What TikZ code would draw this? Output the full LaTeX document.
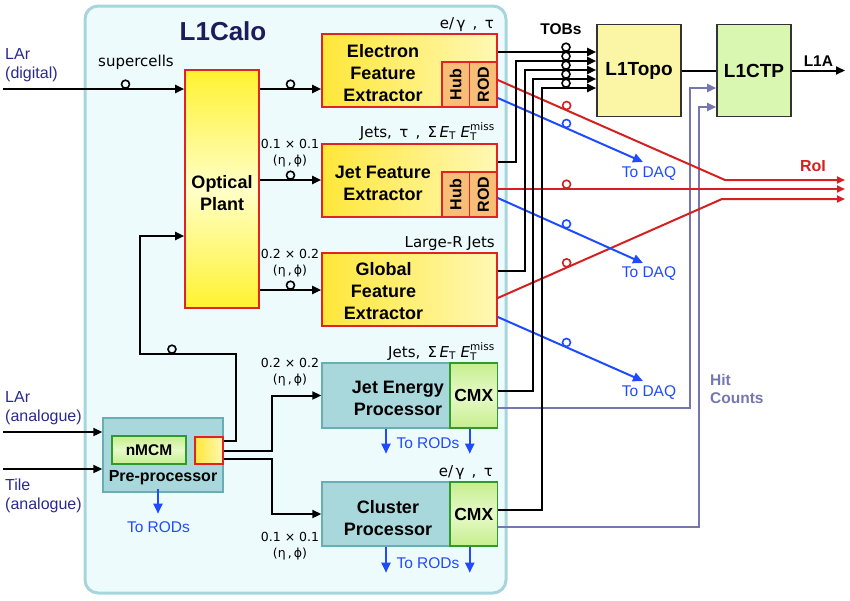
\documentclass[tikz,border=0pt]{standalone}
\usepackage{amsmath}
\usepackage{fontspec}
\setmainfont{Liberation Sans}
\newfontfamily\lblfont{DejaVu Sans}
\usepackage{graphicx}
\usepackage{xcolor}
\usetikzlibrary{arrows.meta, positioning, calc}

\definecolor{calofill}{HTML}{EEFBFD}
\definecolor{caloedge}{HTML}{A6D6DB}
\definecolor{caloname}{HTML}{1C1C5C}
\definecolor{boxred}{HTML}{E02424}
\definecolor{fexdark}{HTML}{FFE73A}
\definecolor{fexlight}{HTML}{FFF8B4}
\definecolor{opyellow}{HTML}{FFF230}
\definecolor{oppale}{HTML}{FFFFC8}
\definecolor{rodfill}{HTML}{F8BE78}
\definecolor{tealfill}{HTML}{A9D8DC}
\definecolor{tealedge}{HTML}{68AEB4}
\definecolor{cmxdark}{HTML}{C6EE8E}
\definecolor{cmxlight}{HTML}{E6FAC8}
\definecolor{cmxedge}{HTML}{2F9A30}
\definecolor{topofill}{HTML}{FBF6A6}
\definecolor{ctpfill}{HTML}{DAF7B2}
\definecolor{roired}{HTML}{D42020}
\definecolor{daqblue}{HTML}{1F4BFF}
\definecolor{hitgray}{HTML}{7676B0}
\definecolor{inblue}{HTML}{2A2A8E}

\newcommand{\lcEt}{$\textit{E}_{\text{T}}$}
\newcommand{\lcEtmiss}{$\textit{E}_{\text{T}}^{\text{miss}}$}

\begin{document}
\begin{tikzpicture}[x=1pt, y=-1pt,
    every node/.style={font=\fontsize{14}{17}\selectfont},
    calobox/.style={rectangle, draw=caloedge, fill=calofill, line width=3pt, rounded corners=13pt},
    fexbox/.style={rectangle, draw=boxred, line width=1.6pt, left color=fexdark, right color=fexlight,
                   minimum width=175pt, minimum height=73pt},
    rodbox/.style={rectangle, draw=boxred, line width=1.6pt, fill=rodfill, inner sep=0pt,
                   minimum width=27.5pt, minimum height=45pt, font=\fontsize{16}{16}\selectfont\bfseries},
    procbox/.style={rectangle, draw=tealedge, fill=tealfill, line width=1.4pt,
                    minimum width=128pt, minimum height=65pt},
    cmxbox/.style={rectangle, draw=cmxedge, line width=1.4pt, top color=cmxdark, bottom color=cmxdark,
                   middle color=cmxlight, minimum width=47.5pt, minimum height=65pt, inner sep=0pt,
                   font=\fontsize{17.5}{20}\selectfont\bfseries},
    l1box/.style={rectangle, draw=black!80, line width=1.6pt, minimum height=92pt, inner sep=0pt,
                  font=\fontsize{19}{22}\selectfont\bfseries},
    boxtxt/.style={align=center, inner sep=0pt, font=\fontsize{18}{22}\selectfont\bfseries},
    wire/.style={draw=black, line width=2pt},
    arrow/.style={wire, -{Triangle[length=9pt, width=8pt]}},
    roi/.style={color=roired, line width=2pt, -{Triangle[length=8pt, width=7pt]}},
    daq/.style={color=daqblue, line width=2pt, -{Triangle[length=10pt, width=9pt]}},
    hit/.style={draw=hitgray, line width=2pt, -{Triangle[length=9pt, width=8pt]}},
    ring/.style={circle, draw, line width=1.6pt, inner sep=0pt, minimum size=8pt, anchor=south},
    lbl/.style={inner sep=0pt, font=\lblfont\fontsize{15}{17}\selectfont},
    cellsize/.style={align=center, inner sep=0pt, font=\lblfont\fontsize{12.5}{16}\selectfont},
    inlbl/.style={anchor=west, align=left, text=inblue, inner sep=0pt, font=\fontsize{16}{19}\selectfont},
    bluelbl/.style={text=daqblue, font=\fontsize{15.5}{18}\selectfont}
]
\useasboundingbox (0,0) rectangle (850,600);

% === L1Calo frame ===
\node[calobox, minimum width=421pt, minimum height=587pt] (calo) at (295.5,299.5) {};
\node[text=caloname, font=\fontsize{26}{28}\selectfont\bfseries] (calotitle) at (223,31.5) {L1Calo};

% === Inputs ===
\node[inlbl] (lardiglbl) at (5,65) {LAr\\(digital)};
\node[inlbl] (laranlbl) at (5,408) {LAr\\(analogue)};
\node[inlbl] (tilelbl) at (5,496) {Tile\\(analogue)};
\coordinate (lardigin) at (3,89);
\coordinate (laranin) at (3,432);
\coordinate (tilein) at (3,469);

% === Optical Plant ===
\node[rectangle, draw=boxred, line width=1.6pt, top color=opyellow, bottom color=opyellow, middle color=oppale,
      minimum width=74pt, minimum height=238pt] (optical) at (222,189) {};
\node[boxtxt] (opticaltxt) at (222,193) {Optical\\Plant};

% === Feature extractors ===
\node[fexbox] (efe) at (409.5,70.5) {};
\node[boxtxt] (efetxt) at (383,73) {Electron\\Feature\\Extractor};
\node[rodbox] (efehub) at (455.75,84.5) {\rotatebox{90}{Hub}};
\node[rodbox] (eferod) at (483.25,84.5) {\rotatebox{90}{ROD}};
\node[lbl, anchor=base east] (efelbl) at (494,28) {e/\,γ\, , \,τ};

\node[fexbox] (jfe) at (409.5,180.5) {};
\node[boxtxt] (jfetxt) at (383,183) {Jet Feature\\Extractor};
\node[rodbox] (jfehub) at (455.75,194.5) {\rotatebox{90}{Hub}};
\node[rodbox] (jferod) at (483.25,194.5) {\rotatebox{90}{ROD}};
\node[lbl, anchor=base east] (jfelbl) at (495,137) {Jets, \,τ\, , \,Σ\,\lcEt\ \lcEtmiss};

\node[fexbox] (gfe) at (409.5,289.5) {};
\node[boxtxt] (gfetxt) at (383.5,291) {Global\\Feature\\Extractor};
\node[lbl, anchor=base east] (gfelbl) at (495,247) {Large-R Jets};

% === Processors ===
\node[procbox] (jep) at (386,395.5) {};
\node[boxtxt] (jeptxt) at (398,398) {Jet Energy\\Processor};
\node[cmxbox] (jepcmx) at (473.75,395.5) {CMX};
\node[lbl, anchor=base east] (jeplbl) at (495,357) {Jets, \,Σ\,\lcEt\ \lcEtmiss};

\node[procbox, minimum height=64pt] (cp) at (386,514) {};
\node[boxtxt] (cptxt) at (388,518) {Cluster\\Processor};
\node[cmxbox, minimum height=64pt] (cpcmx) at (473.75,514) {CMX};
\node[lbl, anchor=base east] (cplbl) at (493,476) {e/\,γ\, , \,τ};

% === Pre-processor ===
\node[procbox, minimum width=120pt, minimum height=74pt] (ppr) at (163,455) {};
\node[cmxbox, minimum width=74pt, minimum height=28pt, font=\fontsize{15.5}{17}\selectfont\bfseries] (nmcm) at (149,450) {nMCM};
\node[rectangle, draw=boxred, line width=1.6pt, left color=fexdark, right color=fexlight,
      minimum width=28pt, minimum height=27pt] (pprout) at (209,450.5) {};
\node[boxtxt, font=\fontsize{16}{18}\selectfont\bfseries] (pprtxt) at (163,478) {Pre-processor};

% === Central trigger ===
\node[l1box, fill=topofill, minimum width=84pt] (l1topo) at (639,70.5) {L1Topo};
\node[l1box, fill=ctpfill, minimum width=74pt] (l1ctp) at (754,70.5) {L1CTP};
\node[font=\fontsize{15.5}{18}\selectfont\bfseries] (tobs) at (561,29) {TOBs};

% === Hit counts ===
\draw[hit] (jepcmx.east |- 0,408) -- (690,408) -- (690,88) -- (l1ctp.west |- 0,88);
\draw[hit] (cpcmx.east |- 0,527) -- (699,527) -- (699,107) -- (l1ctp.west |- 0,107);
\node[anchor=north west, align=left, inner sep=0pt, text=hitgray, font=\fontsize{15.5}{18}\selectfont\bfseries] (hitlbl) at (710,374) {Hit\\Counts};

% === RoI and readout ===
\coordinate (roia) at (845,180);
\coordinate (roib) at (845,189);
\coordinate (roic) at (845,199);
\draw[roi] (eferod.east |- 0,80) -- node[ring, pos=0.303] (roiring1) {} (725,180) -- (roia);
\draw[roi] (jferod.east |- 0,189) -- node[ring, pos=0.198] (roiring2) {} (roib);
\draw[roi] (gfe.east |- 0,298) -- node[ring, pos=0.307] (roiring3) {} (722,199) -- (roic);
\node[text=roired, font=\fontsize{16}{18}\selectfont\bfseries] (roilbl) at (813,166) {RoI};

\coordinate (daqa) at (643,162);
\coordinate (daqb) at (643,263);
\coordinate (daqc) at (643,381);
\draw[daq] (eferod.east |- 0,98) -- node[ring, pos=0.473] (daqring1) {} (daqa);
\draw[daq] (jferod.east |- 0,198) -- node[ring, pos=0.473] (daqring2) {} (daqb);
\draw[daq] (gfe.east |- 0,317) -- node[ring, pos=0.473] (daqring3) {} (daqc);
\node[bluelbl] (daqlbl1) at (649,174) {To DAQ};
\node[bluelbl] (daqlbl2) at (649,274) {To DAQ};
\node[bluelbl] (daqlbl3) at (649,393) {To DAQ};

% === Optical links ===
\draw[arrow] (lardigin) -- node[ring, pos=0.676] (scring) {} (optical.west |- lardigin);
\node[lbl] (sclbl) at (136,62) {supercells};
\draw[arrow] (optical.east |- 0,89) -- node[ring] (efering) {} (efe.west |- 0,89);
\draw[arrow] (optical.east |- 0,180) -- node[ring] (jfering) {} (jfe.west |- 0,180);
\draw[arrow] (optical.east |- 0,290) -- node[ring] (gfering) {} (gfe.west |- 0,290);
\node[cellsize] (jfegran) at (290,153) {0.1 × 0.1\\(η\,,\,ϕ)};
\node[cellsize] (gfegran) at (290,263) {0.2 × 0.2\\(η\,,\,ϕ)};

% === Analogue path ===
\draw[arrow] (laranin) -- (ppr.west |- laranin);
\draw[arrow] (tilein) -- (ppr.west |- tilein);
\draw[arrow] (pprout.east |- 0,441) -- (236,441) -- (236,354) -- node[ring, pos=0.667] (pprring) {} (140,354)
    -- (140,236) -- (optical.west |- 0,236);
\draw[arrow] (pprout.east |- 0,451) -- (272,451) -- (272,395.5) -- (jep.west);
\draw[arrow] (pprout.east |- 0,459) -- (272,459) -- (272,514) -- (cp.west);
\node[cellsize] (jepgran) at (290,372) {0.2 × 0.2\\(η\,,\,ϕ)};
\node[cellsize] (cpgran) at (290,546) {0.1 × 0.1\\(η\,,\,ϕ)};

% === To RODs ===
\draw[daq] (jep.south) -- ++(0,25);
\draw[daq] ([xshift=-4pt]jepcmx.south) -- ++(0,25);
\node[bluelbl] (jeprods) at (428,443) {To RODs};
\draw[daq] (cp.south) -- ++(0,26);
\draw[daq] ([xshift=-4pt]cpcmx.south) -- ++(0,26);
\node[bluelbl] (cprods) at (428,563) {To RODs};
\draw[daq] ([xshift=-5pt, yshift=4pt]ppr.south) -- ++(0,25);
\node[bluelbl] (pprrods) at (158.5,527) {To RODs};

% === TOBs to L1Topo ===
\draw[arrow] (efe.east |- 0,52) -- (l1topo.west |- 0,52);
\draw[arrow] (jfe.east |- 0,162) -- (516,162) -- (516,61) -- (l1topo.west |- 0,61);
\draw[arrow] (gfe.east |- 0,271) -- (525,271) -- (525,70) -- (l1topo.west |- 0,70);
\draw[arrow] (jepcmx.east |- 0,391) -- (533,391) -- (533,79) -- (l1topo.west |- 0,79);
\draw[arrow] (cpcmx.east |- 0,510) -- (542,510) -- (542,88) -- (l1topo.west |- 0,88);
\foreach \y/\n in {52/a,61/b,70/c,79/d,88/e}
    \node[ring] (tob\n) at (566,\y) {};

% === L1A ===
\coordinate (l1aout) at (845,70.5);
\draw[wire] (l1topo) -- (l1ctp);
\draw[arrow] (l1ctp) -- node[above, font=\fontsize{15.5}{18}\selectfont\bfseries] (l1albl) {L1A} (l1aout);

\end{tikzpicture}
\end{document}
